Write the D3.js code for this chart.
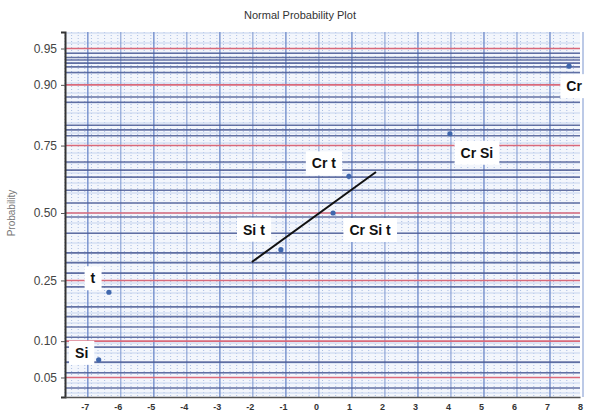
<!DOCTYPE html>
<html>
<head>
<meta charset="utf-8">
<script src="https://cdn.jsdelivr.net/npm/d3@7"></script>
<style>
  body { margin: 0; background: #fff; }
  svg { display: block; }
  .tick text { font-family: "Liberation Sans", Arial, sans-serif; }
</style>
</head>
<body>
<svg width="590" height="414"></svg>
<script>
// effects (x) and plotting probabilities (y)
var effect_names = ['Si', 't', 'Si t', 'Cr Si t', 'Cr t', 'Cr Si', 'Cr']
var effect_values = [-6.58, -6.27, -1.06, 0.52, 1.0, 4.06, 7.67]
var effect_probs = [0.071, 0.214, 0.357, 0.5, 0.643, 0.786, 0.929]

// reference line end points
var fit_x = [-1.94, 1.82]
var fit_p = [0.312, 0.659]

var y_tick_probs = [0.05, 0.10, 0.25, 0.50, 0.75, 0.90, 0.95]
var x_ticks = [-7, -6, -5, -4, -3, -2, -1, 0, 1, 2, 3, 4, 5, 6, 7, 8]

// the darker probability rulings of the paper
var dark_rules = [0.945, 0.94, 0.937, 0.933, 0.928, 0.92, 0.877, 0.866, 0.81, 0.797,
  0.78, 0.695, 0.666, 0.64, 0.59, 0.54, 0.484, 0.42, 0.345, 0.31, 0.274, 0.23,
  0.174, 0.15, 0.127, 0.107, 0.09, 0.068, 0.055, 0.04]

// label placement (text centre relative to point), layout only
var label_offsets = {
  'Si': [-17, -7], 't': [-16, -14], 'Si t': [-27, -20], 'Cr Si t': [37, 17],
  'Cr t': [-25, -13], 'Cr Si': [27, 19], 'Cr': [5, 20]
}

// inverse normal cdf (Acklam)
function probit (p) {
  var a = [-3.969683028665376e+01, 2.209460984245205e+02, -2.759285104469687e+02,
    1.383577518672690e+02, -3.066479806614716e+01, 2.506628277459239e+00]
  var b = [-5.447609879822406e+01, 1.615858368580409e+02, -1.556989798598866e+02,
    6.680131188771972e+01, -1.328068155288572e+01]
  var c = [-7.784894002430293e-03, -3.223964580411365e-01, -2.400758277161838e+00,
    -2.549671010336098e+00, 4.374664141464968e+00, 2.938163982698783e+00]
  var d = [7.784695709041462e-03, 3.224671290700398e-01, 2.445134137142996e+00,
    3.754408661907416e+00]
  var q, r
  if (p < 0.02425) {
    q = Math.sqrt(-2 * Math.log(p))
    return (((((c[0]*q+c[1])*q+c[2])*q+c[3])*q+c[4])*q+c[5]) / ((((d[0]*q+d[1])*q+d[2])*q+d[3])*q+1)
  }
  if (p > 1 - 0.02425) {
    q = Math.sqrt(-2 * Math.log(1 - p))
    return -(((((c[0]*q+c[1])*q+c[2])*q+c[3])*q+c[4])*q+c[5]) / ((((d[0]*q+d[1])*q+d[2])*q+d[3])*q+1)
  }
  q = p - 0.5
  r = q * q
  return (((((a[0]*r+a[1])*r+a[2])*r+a[3])*r+a[4])*r+a[5])*q / (((((b[0]*r+b[1])*r+b[2])*r+b[3])*r+b[4])*r+1)
}

var plot_left = 65, plot_right = 580, plot_top = 32, plot_bottom = 397

var x = d3.scaleLinear().domain([-7.6, 8.0]).range([plot_left, plot_right])
var z = d3.scaleLinear().domain([-1.84, 1.81]).range([plot_bottom, plot_top])
var y = (p) => z(probit(p))

var svg = d3.select('svg')

svg.append('text')
  .attr('x', 300).attr('y', 19)
  .attr('text-anchor', 'middle')
  .attr('font-family', 'Liberation Sans, Arial, sans-serif')
  .attr('font-size', 11)
  .attr('fill', '#333')
  .text('Normal Probability Plot')

svg.append('text')
  .attr('transform', 'translate(15,' + z(0) + ') rotate(-90)')
  .attr('text-anchor', 'middle')
  .attr('font-family', 'Liberation Sans, Arial, sans-serif')
  .attr('font-size', 10)
  .attr('fill', '#777')
  .text('Probability')

var grid = svg.append('g')

grid.append('rect')
  .attr('x', plot_left).attr('y', plot_top)
  .attr('width', plot_right - plot_left).attr('height', plot_bottom - plot_top)
  .attr('fill', '#f3f6fc')

// minor dotted verticals
grid.selectAll('.vminor')
  .data(d3.range(-7.6, 8.0, 0.2))
  .enter().append('line')
    .attr('x1', (d) => x(d)).attr('x2', (d) => x(d))
    .attr('y1', plot_top).attr('y2', plot_bottom)
    .attr('stroke', '#a9bde3')
    .attr('stroke-width', 1)
    .attr('stroke-dasharray', '1,2')

// minor horizontals
grid.selectAll('.hminor')
  .data(z.ticks(36))
  .enter().append('line')
    .attr('x1', plot_left).attr('x2', plot_right)
    .attr('y1', (d) => z(d)).attr('y2', (d) => z(d))
    .attr('stroke', '#c6d4ee')
    .attr('stroke-width', 1)

// integer verticals
grid.selectAll('.vmajor')
  .data(x_ticks)
  .enter().append('line')
    .attr('x1', (d) => x(d) + 3).attr('x2', (d) => x(d) + 3)
    .attr('y1', plot_top).attr('y2', plot_bottom)
    .attr('stroke', '#7b95cf')
    .attr('stroke-width', (d, i) => i % 2 ? 1 : 1.5)

grid.selectAll('.hdark')
  .data(dark_rules)
  .enter().append('line')
    .attr('x1', plot_left).attr('x2', plot_right)
    .attr('y1', (d) => y(d)).attr('y2', (d) => y(d))
    .attr('stroke', '#4a5b94')
    .attr('stroke-opacity', 0.85)
    .attr('stroke-width', 1.6)

grid.selectAll('.hred')
  .data(y_tick_probs)
  .enter().append('line')
    .attr('x1', plot_left).attr('x2', plot_right)
    .attr('y1', (d) => y(d)).attr('y2', (d) => y(d))
    .attr('stroke', '#d9697a')
    .attr('stroke-width', 1.6)

// axes
var yAxis = d3.axisLeft(z)
  .tickValues(y_tick_probs.map(probit))
  .tickFormat((d, i) => d3.format('.2f')(y_tick_probs[i]))
  .tickSize(4)
var yg = svg.append('g')
  .attr('transform', 'translate(' + plot_left + ',0)')
  .call(yAxis)
yg.select('.domain').attr('stroke', '#333').attr('stroke-width', 2)
yg.selectAll('.tick line').attr('stroke', '#555')
yg.selectAll('.tick text').attr('font-size', 12).attr('fill', '#444').attr('x', -8)

var xAxis = d3.axisBottom(x).tickValues(x_ticks).tickFormat(d3.format('d')).tickSize(0)
var xg = svg.append('g')
  .attr('transform', 'translate(0,' + plot_bottom + ')')
  .call(xAxis)
xg.select('.domain').attr('stroke', '#555').attr('stroke-width', 1.5)
xg.selectAll('.tick text')
  .attr('font-size', 9).attr('font-weight', 'bold')
  .attr('fill', '#333').attr('dy', '1.1em')
  .text((d) => d < 0 ? '-' + Math.abs(d) : d)

// fit line
svg.append('line')
  .attr('x1', x(fit_x[0])).attr('y1', y(fit_p[0]))
  .attr('x2', x(fit_x[1])).attr('y2', y(fit_p[1]))
  .attr('stroke', '#111')
  .attr('stroke-width', 2)

// points
var pts = effect_names.map((name, i) => ({ name: name, v: effect_values[i], p: effect_probs[i] }))

svg.selectAll('.pt')
  .data(pts)
  .enter().append('circle')
    .attr('cx', (d) => x(d.v))
    .attr('cy', (d) => y(d.p))
    .attr('r', 2.6)
    .attr('fill', '#4067ad')

// labels in white boxes
var labels = svg.selectAll('.lab')
  .data(pts)
  .enter().append('g')
    .attr('transform', (d) => 'translate(' + (x(d.v) + label_offsets[d.name][0]) + ',' + (y(d.p) + label_offsets[d.name][1]) + ')')

labels.append('text')
  .attr('text-anchor', 'middle')
  .attr('dy', '0.36em')
  .attr('font-family', '"Liberation Sans Narrow", "Liberation Sans", Arial, sans-serif')
  .attr('font-weight', 'bold')
  .attr('font-size', 14)
  .attr('fill', '#111')
  .text((d) => d.name)

labels.each(function () {
  var g = d3.select(this)
  var bb = g.select('text').node().getBBox()
  g.insert('rect', 'text')
    .attr('x', bb.x - 6).attr('y', -12)
    .attr('width', bb.width + 12).attr('height', 24)
    .attr('fill', '#fff')
})
</script>
</body>
</html>
